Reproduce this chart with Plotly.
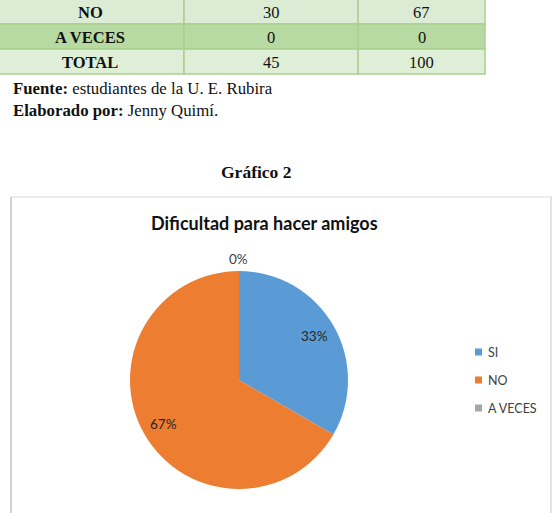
import math
import plotly.graph_objects as go

# ---- data ----
table_rows = ["NO", "A VECES", "TOTAL"]
table_freq = [30, 0, 45]
table_pct = [67, 0, 100]

categories = ["SI", "NO", "A VECES"]
values = [15, 30, 0]
colors = ["#5b9bd5", "#ed7d31", "#a5a5a5"]

title = "Dificultad para hacer amigos"

W, H = 557, 513

def px(x):
    return x / W

def py(y):
    return 1 - y / H

fig = go.Figure()
annotations = []
shapes = []

# ---- table (drawn as cells from the row lists) ----
col_edges = [-4, 184, 358, 485]
row_top = -1
row_h = 25
row_fills = ["#dcebd3", "#b7daa2", "#dfeed7"]
border = "#a9d18e"
for i, (lab, f, p) in enumerate(zip(table_rows, table_freq, table_pct)):
    y0 = row_top + i * row_h
    y1 = y0 + row_h
    cells = ["<b>" + lab + "</b>", str(f), str(p)]
    for j, txt in enumerate(cells):
        x0, x1 = col_edges[j], col_edges[j + 1]
        shapes.append(dict(type="rect", xref="paper", yref="paper",
                           x0=px(x0), x1=px(x1), y0=py(y1), y1=py(y0),
                           fillcolor=row_fills[i], line=dict(color=border, width=1.5),
                           layer="below"))
        annotations.append(dict(
            x=px((x0 + x1) / 2), y=py((y0 + y1) / 2 + 0.5), xref="paper", yref="paper",
            text=txt, showarrow=False, xanchor="center", yanchor="middle",
            font=dict(family="Liberation Serif", size=16.5, color="#111"),
        ))

# ---- pie ----
cx, cy, r = 239, 380, 109
fig.add_trace(go.Pie(
    labels=categories,
    values=values,
    marker=dict(colors=colors, line=dict(width=0)),
    sort=False,
    direction="clockwise",
    rotation=0,
    textinfo="none",
    hoverinfo="label+percent",
    showlegend=False,
    domain=dict(x=[px(cx - r), px(cx + r)], y=[py(cy + r), py(cy - r)]),
))

# pie labels from data
total = sum(values)
cum = 0
for v in values:
    frac = v / total
    mid = (cum + frac / 2) * 2 * math.pi
    cum += frac
    rr = r * 0.8 if v > 0 else r * 1.11
    lx = cx + rr * math.sin(mid)
    ly = cy - rr * math.cos(mid)
    annotations.append(dict(
        x=px(lx), y=py(ly), xref="paper", yref="paper",
        text=f"{round(frac * 100)}%", showarrow=False,
        font=dict(family="Lato", size=13.5, color="#262626" if v > 0 else "#404040"),
        xanchor="center", yanchor="middle",
    ))

# legend
for i, (c, col) in enumerate(zip(categories, colors)):
    yy = 352 + i * 28
    shapes.append(dict(type="rect", xref="paper", yref="paper",
                       x0=px(475), x1=px(482), y0=py(yy + 3.5), y1=py(yy - 3.5),
                       fillcolor=col, line=dict(width=0)))
    annotations.append(dict(
        x=px(486), y=py(yy), xref="paper", yref="paper", text=c,
        showarrow=False, xanchor="left", yanchor="middle",
        font=dict(family="Lato", size=12.5, color="#404040"),
    ))

# chart box
shapes.append(dict(type="line", xref="paper", yref="paper",
                   x0=px(11), x1=px(552), y0=py(197), y1=py(197),
                   line=dict(color="#d9d9d9", width=1)))
shapes.append(dict(type="line", xref="paper", yref="paper",
                   x0=px(11), x1=px(11), y0=py(197), y1=py(520),
                   line=dict(color="#a6a6a6", width=1)))
shapes.append(dict(type="line", xref="paper", yref="paper",
                   x0=px(551), x1=px(551), y0=py(197), y1=py(520),
                   line=dict(color="#c8c8c8", width=1)))

# chart title
annotations.append(dict(
    x=px(264), y=py(223), xref="paper", yref="paper", text="<b>" + title + "</b>",
    showarrow=False, xanchor="center", yanchor="middle",
    font=dict(family="Lato", size=18, color="#111"),
))

# document texts
annotations.append(dict(
    x=px(11), y=py(88), xref="paper", yref="paper",
    text="<b>Fuente:</b> estudiantes de la U. E. Rubira",
    showarrow=False, xanchor="left", yanchor="middle",
    font=dict(family="Liberation Serif", size=16.8, color="#111"),
))
annotations.append(dict(
    x=px(11), y=py(110), xref="paper", yref="paper",
    text="<b>Elaborado por:</b> Jenny Quimí.",
    showarrow=False, xanchor="left", yanchor="middle",
    font=dict(family="Liberation Serif", size=16.8, color="#111"),
))
annotations.append(dict(
    x=px(256), y=py(172), xref="paper", yref="paper",
    text="<b>Gráfico 2</b>",
    showarrow=False, xanchor="center", yanchor="middle",
    font=dict(family="Liberation Serif", size=17.5, color="#111"),
))

fig.update_layout(
    width=W, height=H,
    margin=dict(l=0, r=0, t=0, b=0),
    paper_bgcolor="white", plot_bgcolor="white",
    xaxis=dict(visible=False), yaxis=dict(visible=False),
    annotations=annotations, shapes=shapes,
    showlegend=False,
)

fig.write_html("out.html")
